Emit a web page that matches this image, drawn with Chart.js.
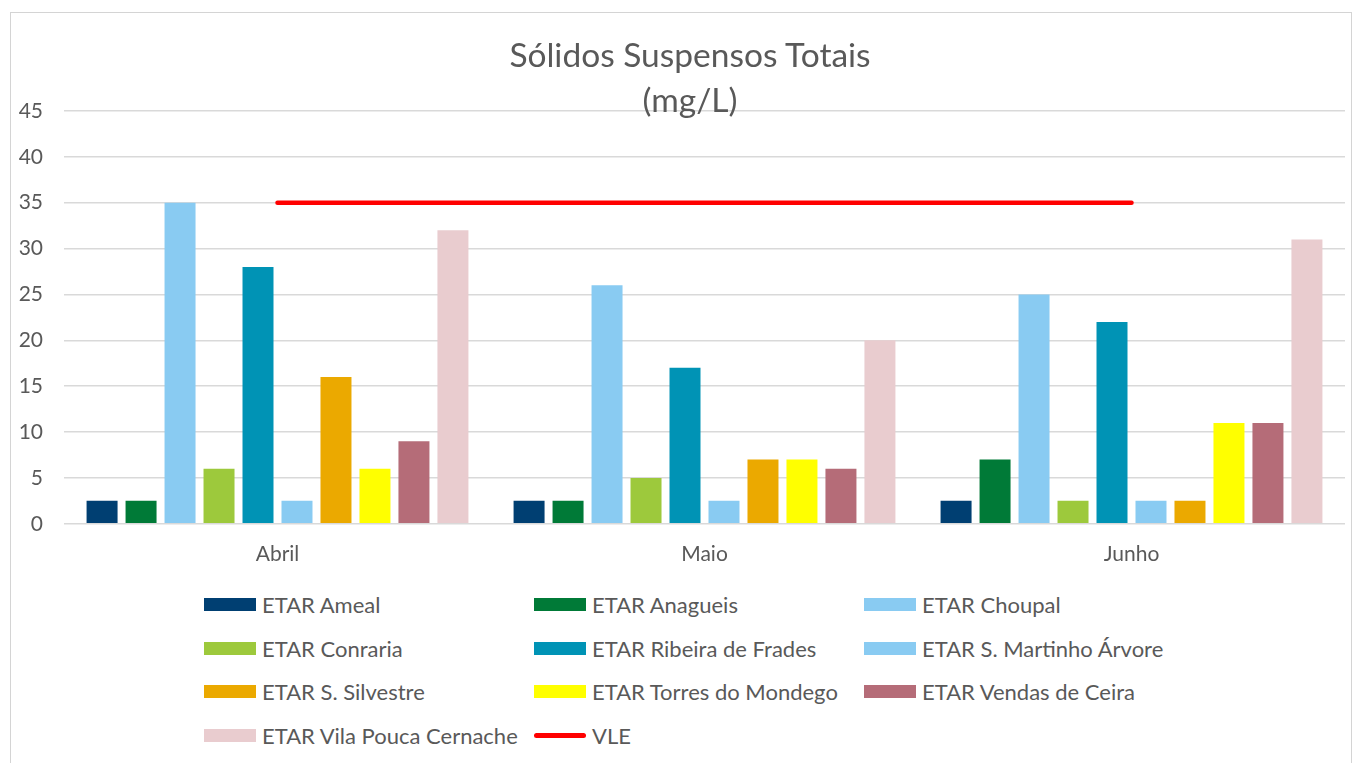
<!DOCTYPE html>
<html>
<head>
<meta charset="utf-8">
<script src="https://cdn.jsdelivr.net/npm/chart.js@4.4.0/dist/chart.umd.min.js"></script>
<style>
  body { margin: 0; background: #fff; font-family: Lato, 'Open Sans', sans-serif; }
  #frame {
    position: absolute; left: 10px; top: 12px; width: 1340px; height: 760px;
    border: 1px solid #d4d4d4; background: #fff; overflow: hidden;
  }
  #chartTitle {
    position: absolute; left: 18px; right: 0; top: 19px;
    text-align: center; color: #595959; font-size: 33.5px; line-height: 45px;
    z-index: 2;
  }
  #chart { position: absolute; left: 0; top: 0; }
  #legend {
    position: absolute; left: 193px; top: 570px;
    display: grid; grid-template-columns: 330px 330px 330px;
  }
  .item { display: flex; align-items: center; height: 43.5px; color: #595959; font-size: 22px; white-space: nowrap; }
  .box { width: 52px; height: 13px; margin-right: 6px; flex: none; }
  .lineKey { width: 52px; height: 5px; border-radius: 3px; margin-right: 6px; flex: none; }
</style>
</head>
<body>
<div id="frame">
  <div id="chartTitle">Sólidos Suspensos Totais<br>(mg/L)</div>
  <canvas id="chart" width="1340" height="564"></canvas>
  <div id="legend"></div>
</div>
<script>
// data
const months = ['Abril', 'Maio', 'Junho'];
const stations = [
  'ETAR Ameal', 'ETAR Anagueis', 'ETAR Choupal', 'ETAR Conraria', 'ETAR Ribeira de Frades',
  'ETAR S. Martinho Árvore', 'ETAR S. Silvestre', 'ETAR Torres do Mondego', 'ETAR Vendas de Ceira',
  'ETAR Vila Pouca Cernache'
];
const ameal = [2.5, 2.5, 2.5];
const anagueis = [2.5, 2.5, 7];
const choupal = [35, 26, 25];
const conraria = [6, 5, 2.5];
const ribeira = [28, 17, 22];
const martinho = [2.5, 2.5, 2.5];
const silvestre = [16, 7, 2.5];
const torres = [6, 7, 11];
const vendas = [9, 6, 11];
const vilaPouca = [32, 20, 31];
const vle = [35, 35, 35];
const yTicks = [0, 5, 10, 15, 20, 25, 30, 35, 40, 45];

const colors = ['#003f72', '#007a37', '#89cbf2', '#9dc93c', '#0093b5',
                '#89cbf2', '#eba900', '#ffff00', '#b56c78', '#e9cccf'];
const series = [ameal, anagueis, choupal, conraria, ribeira, martinho, silvestre, torres, vendas, vilaPouca];

const datasets = stations.map((name, i) => ({
  type: 'bar',
  label: name,
  data: series[i],
  backgroundColor: colors[i],
  categoryPercentage: 0.913,
  barPercentage: 0.795,
  order: 1,
}));
datasets.push({
  type: 'line',
  label: 'VLE',
  data: vle,
  borderColor: '#ff0000',
  borderWidth: 4.5,
  borderCapStyle: 'round',
  pointRadius: 0,
  fill: false,
  order: 0,
});

const tickFont = { family: 'Lato, "Open Sans", sans-serif', size: 21 };

new Chart(document.getElementById('chart'), {
  data: { labels: months, datasets: datasets },
  options: {
    responsive: false,
    animation: false,
    layout: { padding: { top: 98, left: 0, right: 6, bottom: 0 } },
    plugins: { legend: { display: false }, tooltip: { enabled: false }, title: { display: false } },
    scales: {
      x: {
        grid: { display: false },
        border: { display: false },
        ticks: { color: '#595959', font: tickFont, padding: 10 },
      },
      y: {
        min: 0,
        max: 45,
        afterBuildTicks: (axis) => { axis.ticks = yTicks.map(v => ({ value: v })); },
        afterFit: (axis) => { axis.width = 53; },
        grid: { color: '#d9d9d9', lineWidth: 1.5, drawTicks: false },
        border: { display: false },
        ticks: { color: '#595959', font: tickFont, padding: 21 },
      },
    },
  },
});

// legend in three fixed columns, like the original
const legend = document.getElementById('legend');
datasets.forEach(ds => {
  const item = document.createElement('div');
  item.className = 'item';
  const key = document.createElement('span');
  if (ds.type === 'line') {
    key.className = 'lineKey';
    key.style.background = ds.borderColor;
  } else {
    key.className = 'box';
    key.style.background = ds.backgroundColor;
  }
  item.appendChild(key);
  item.appendChild(document.createTextNode(ds.label));
  legend.appendChild(item);
});
</script>
</body>
</html>
